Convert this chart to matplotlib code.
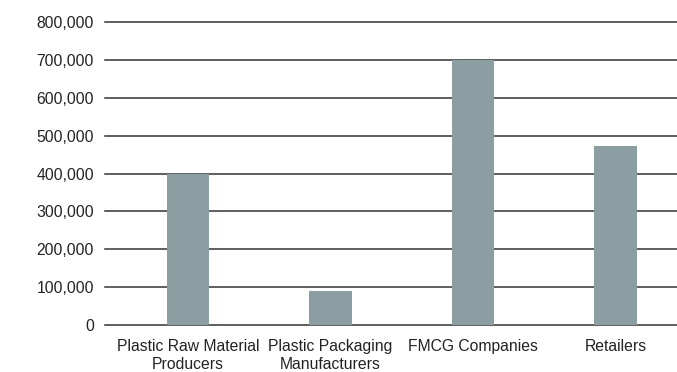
import matplotlib.pyplot as plt
from matplotlib.ticker import FuncFormatter

categories = ['Plastic Raw Material\nProducers', 'Plastic Packaging\nManufacturers',
              'FMCG Companies', 'Retailers']
values = [400000, 90000, 700000, 472000]
yticks = [0, 100000, 200000, 300000, 400000, 500000, 600000, 700000, 800000]

plt.rcParams['font.family'] = ['Liberation Sans', 'DejaVu Sans']

fig = plt.figure(figsize=(6.77, 3.72), dpi=100)
ax = fig.add_axes([0.155, 0.1255, 0.845, 0.8162])

x = range(len(categories))
ax.bar(x, values, width=0.30, color='#8b9ea1', zorder=3)

ax.set_ylim(0, 800000)
ax.set_xlim(-0.582, 3.43)
ax.set_yticks(yticks)
ax.yaxis.set_major_formatter(FuncFormatter(lambda v, p: f'{int(v):,}'))
ax.grid(axis='y', color='#333333', linewidth=1.1, zorder=1)
for gl in ax.get_ygridlines():
    gl.set_clip_on(False)
ax.set_xticks(list(x))
ax.set_xticklabels(categories, linespacing=1.2)

for s in ax.spines.values():
    s.set_visible(False)
ax.tick_params(axis='both', length=0, labelsize=11.3, colors='#222222')
ax.tick_params(axis='y', pad=8)
ax.tick_params(axis='x', pad=10)

fig.savefig('out.png', dpi=100)
